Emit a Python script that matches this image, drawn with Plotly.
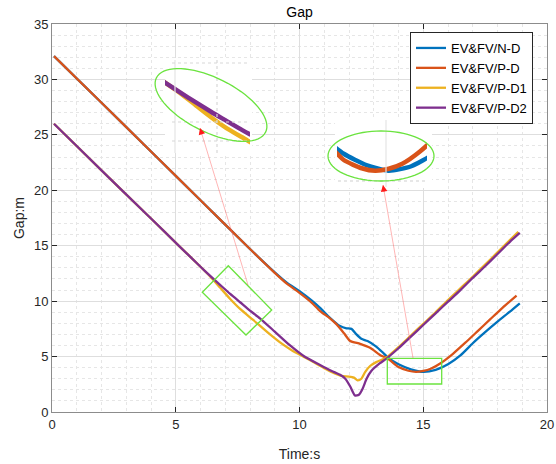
import math
import plotly.graph_objects as go

# ---------------- data ----------------
t_nd = [0.08, 2, 4, 6, 8, 9, 9.5, 10, 10.5, 10.83, 11.23, 11.64, 11.9, 12.1, 12.3, 12.5,
        12.75, 13.1, 13.35, 13.58, 14.0, 14.5, 15.0, 15.5, 16.0, 16.5, 17.0, 17.5, 18.0, 18.5, 18.9]
gap_nd = [32.1, 27.9, 23.5, 19.1, 14.7, 12.6, 11.65, 10.9, 10.05, 9.4, 8.5, 7.75, 7.55, 7.5, 7.0, 6.6,
          6.4, 5.9, 5.4, 4.9, 4.3, 3.85, 3.62, 3.8, 4.3, 5.1, 6.2, 7.2, 8.15, 9.05, 9.8]

t_pd = [0.08, 2, 4, 6, 8, 9, 9.5, 10, 10.5, 10.83, 11.23, 11.5, 11.8, 12.05, 12.45, 12.85,
        13.25, 13.58, 14.0, 14.4, 14.7, 15.0, 15.3, 15.7, 16.2, 16.7, 17.2, 17.7, 18.2, 18.77]
gap_pd = [32.1, 27.9, 23.5, 19.1, 14.7, 12.55, 11.55, 10.75, 9.85, 9.1, 8.45, 7.9, 7.1, 6.4, 6.15, 5.8,
          5.15, 4.8, 4.05, 3.72, 3.62, 3.7, 3.9, 4.4, 5.25, 6.25, 7.3, 8.35, 9.4, 10.5]

t_pd1 = [0.08, 2, 4, 5.17, 6.0, 6.38, 6.8, 7.2, 7.6, 8.13, 8.7, 9.2, 9.7, 10.2, 10.56, 11.0, 11.4,
         11.7, 12.0, 12.2, 12.35, 12.5, 12.65, 12.85, 13.1, 13.5, 14.0, 14.5, 15.0, 15.5, 16.0, 16.5,
         17.0, 17.5, 18.0, 18.5, 18.84]
gap_pd1 = [26.0, 21.8, 17.45, 14.9, 13.1, 12.25, 11.2, 10.2, 9.3, 8.3, 7.2, 6.3, 5.55, 4.95, 4.5, 3.95, 3.5,
           3.25, 3.2, 3.1, 2.85, 3.0, 3.6, 4.15, 4.5, 4.9, 5.85, 6.9, 7.95, 9.0, 10.1, 11.15,
           12.2, 13.3, 14.4, 15.5, 16.25]

t_pd2 = [0.08, 2, 4, 5.17, 6.0, 6.38, 6.8, 7.2, 7.6, 8.0, 8.4, 9.0, 9.62, 10.2, 10.83, 11.3, 11.64,
         11.85, 12.05, 12.24, 12.4, 12.55, 12.71, 12.9, 13.25, 13.5, 14.0, 14.5, 15.0, 15.5, 16.0,
         16.5, 17.0, 17.5, 18.0, 18.5, 18.9]
gap_pd2 = [26.0, 21.8, 17.45, 14.9, 13.1, 12.3, 11.45, 10.65, 9.9, 9.15, 8.45, 7.25, 6.0, 5.0, 4.24, 3.7, 3.35,
           3.0, 2.3, 1.5, 1.55, 2.1, 3.0, 3.7, 4.4, 4.8, 5.75, 6.8, 7.85, 8.9, 9.95,
           11.0, 12.1, 13.15, 14.25, 15.35, 16.15]

names = ["EV&FV/N-D", "EV&FV/P-D", "EV&FV/P-D1", "EV&FV/P-D2"]
colors = ["#0072BD", "#D95319", "#EDB120", "#7E2F8E"]

x_ticks = [0, 5, 10, 15, 20]
y_ticks = [0, 5, 10, 15, 20, 25, 30, 35]

# ---------------- layout geometry ----------------
W, H = 556, 464
L, R, T, B = 52, 547, 24, 412
X0, X1, Y0, Y1 = 0, 20, 0, 35


def pxx(px):
    return (px - L) / (R - L)


def pxy(py):
    return (B - py) / (B - T)


def dx(px):
    return X0 + (px - L) / (R - L) * (X1 - X0)


def dy(py):
    return Y0 + (B - py) / (B - T) * (Y1 - Y0)


fig = go.Figure()
series = [(t_nd, gap_nd), (t_pd, gap_pd), (t_pd1, gap_pd1), (t_pd2, gap_pd2)]
for (t, g), n, c in zip(series, names, colors):
    fig.add_trace(go.Scatter(x=t, y=g, mode="lines", name=n,
                             line=dict(color=c, width=2.3, shape="spline", smoothing=0.6)))

# inset 1 (P-D1 / P-D2), inset 2 (N-D / P-D)
for idx in (2, 3):
    t, g = series[idx]
    fig.add_trace(go.Scatter(x=t, y=g, mode="lines", showlegend=False, xaxis="x2", yaxis="y2",
                             line=dict(color=colors[idx], width=4.5, shape="spline", smoothing=0.6)))
for idx in (0, 1):
    t, g = series[idx]
    fig.add_trace(go.Scatter(x=t, y=g, mode="lines", showlegend=False, xaxis="x3", yaxis="y3",
                             line=dict(color=colors[idx], width=4.5, shape="spline", smoothing=0.6)))

shapes = []
# white backgrounds for insets
for (a, b_, c_, d_) in [(170, 58, 252, 153), (335, 118, 432, 188)]:
    shapes.append(dict(type="rect", xref="x", yref="y", x0=dx(a), x1=dx(c_), y0=dy(b_), y1=dy(d_),
                       fillcolor="white", line=dict(width=0), layer="between"))

# faint inset grid remnants
for (xa, ya, xb, yb, dash, col) in [
    (175, 60, 175, 153, "solid", "#e4e4e4"), (217, 60, 217, 153, "dot", "#d8d8d8"),
    (172, 63, 250, 63, "dot", "#d8d8d8"), (172, 122, 250, 122, "dot", "#d8d8d8"),
    (172, 141, 250, 141, "dot", "#d8d8d8"),
    (386, 120, 386, 187, "solid", "#e4e4e4"), (338, 181, 428, 181, "dot", "#cfcfcf")]:
    shapes.append(dict(type="line", xref="paper", yref="paper", x0=pxx(xa), y0=pxy(ya),
                       x1=pxx(xb), y1=pxy(yb), line=dict(color=col, width=1.2, dash=dash),
                       layer="above"))


def ellipse_path(cx, cy, a, b, ang_deg, n=72):
    ph = math.radians(ang_deg)
    pts = []
    for k in range(n):
        th = 2 * math.pi * k / n
        px = cx + a * math.cos(th) * math.cos(ph) - b * math.sin(th) * math.sin(ph)
        py = cy + a * math.cos(th) * math.sin(ph) + b * math.sin(th) * math.cos(ph)
        pts.append((pxx(px), pxy(py)))
    return "M " + " L ".join(f"{x:.5f},{y:.5f}" for x, y in pts) + " Z"


def poly_path(pts):
    return "M " + " L ".join(f"{pxx(x):.5f},{pxy(y):.5f}" for x, y in pts) + " Z"


green = "#6BE33F"
shapes.append(dict(type="path", xref="paper", yref="paper", path=ellipse_path(211, 105, 61, 27, 26.5),
                   line=dict(color=green, width=1.3), layer="above"))
shapes.append(dict(type="path", xref="paper", yref="paper", path=ellipse_path(381, 156, 53, 25, 0),
                   line=dict(color=green, width=1.3), layer="above"))
shapes.append(dict(type="path", xref="paper", yref="paper",
                   path=poly_path([(228.3, 265.7), (271.7, 310), (246, 335), (202.3, 292.3)]),
                   line=dict(color=green, width=1.3), layer="above"))
shapes.append(dict(type="path", xref="paper", yref="paper",
                   path=poly_path([(387.3, 358.3), (441.7, 358.3), (441.7, 384), (387.3, 384)]),
                   line=dict(color=green, width=1.3), layer="above"))

annotations = []
for (tx, ty, hx, hy) in [(248, 285, 200, 128), (413, 358, 383, 185)]:
    shapes.append(dict(type="line", xref="paper", yref="paper", x0=pxx(tx), y0=pxy(ty),
                       x1=pxx(hx), y1=pxy(hy), line=dict(color="rgba(255,90,90,0.45)", width=1),
                       layer="above"))
    ln = math.hypot(tx - hx, ty - hy)
    annotations.append(dict(x=pxx(hx), y=pxy(hy), xref="paper", yref="paper", text="",
                            showarrow=True, arrowhead=2, arrowsize=1.1, arrowwidth=1.2,
                            arrowcolor="#ff1a1a", ax=(tx - hx) / ln * 8, ay=(ty - hy) / ln * 8))

font_family = "Liberation Sans, Arial, Helvetica, sans-serif"
axis_common = dict(showline=True, linecolor="#8c8c8c", linewidth=1, mirror="ticks",
                   ticks="inside", ticklen=5, tickcolor="#262626", tickwidth=1,
                   showgrid=True, gridcolor="#dedede", gridwidth=1, zeroline=False,
                   automargin=False,
                   tickfont=dict(size=13, color="#262626", family=font_family))

fig.update_layout(
    width=W, height=H,
    margin=dict(l=L, r=W - R, t=T, b=H - B),
    paper_bgcolor="white", plot_bgcolor="white",
    font=dict(family=font_family, color="#262626"),
    title=dict(text="Gap", x=0.5, xref="paper", xanchor="center", y=1 - 12 / H, yanchor="middle",
               font=dict(size=14, color="black", family=font_family)),
    xaxis=dict(range=[X0, X1], tickvals=x_ticks, domain=[0, 1],
               minor=dict(dtick=1, showgrid=True, gridcolor="#e6e6e6", griddash="dot", ticks=""),
               title=dict(text="Time:s", standoff=18, font=dict(size=14, color="#262626")),
               **axis_common),
    yaxis=dict(range=[Y0, Y1], tickvals=y_ticks, domain=[0, 1],
               minor=dict(dtick=1, showgrid=True, gridcolor="#e6e6e6", griddash="dot", ticks=""),
               title=dict(text="Gap:m", standoff=6, font=dict(size=14, color="#262626")),
               **axis_common),
    xaxis2=dict(domain=[pxx(165), pxx(250)], range=[6.0, 8.2], anchor="y2", visible=False),
    yaxis2=dict(domain=[pxy(150), pxy(62)], range=[7.5, 14.8], anchor="x2", visible=False),
    xaxis3=dict(domain=[pxx(337), pxx(427)], range=[13.85, 15.85], anchor="y3", visible=False),
    yaxis3=dict(domain=[pxy(185), pxy(125)], range=[3.05, 5.45], anchor="x3", visible=False),
    legend=dict(x=pxx(533), xanchor="right", y=pxy(32), yanchor="top",
                bgcolor="white", bordercolor="#262626", borderwidth=1,
                font=dict(size=13, color="black", family=font_family), tracegroupgap=0),
    shapes=shapes,
    annotations=annotations,
    showlegend=True,
)

fig.write_html("out.html")
